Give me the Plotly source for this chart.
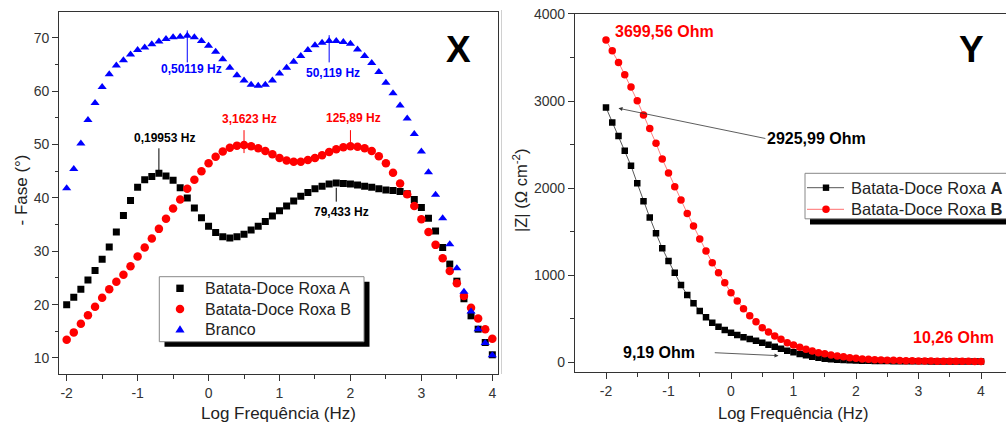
import plotly.graph_objects as go

W, H = 1006, 428
FONT = "Liberation Sans, Arial, sans-serif"

# log10 of frequency (Hz)
log_f = [-2.0, -1.9, -1.8, -1.7, -1.6, -1.5, -1.4, -1.3, -1.2, -1.1,
         -1.0, -0.9, -0.8, -0.7, -0.6, -0.5, -0.4, -0.3, -0.2, -0.1,
         0.0, 0.1, 0.2, 0.3, 0.4, 0.5, 0.6, 0.7, 0.8, 0.9,
         1.0, 1.1, 1.2, 1.3, 1.4, 1.5, 1.6, 1.7, 1.8, 1.9,
         2.0, 2.1, 2.2, 2.3, 2.4, 2.5, 2.6, 2.7, 2.8, 2.9,
         3.0, 3.1, 3.2, 3.3, 3.4, 3.5, 3.6, 3.7, 3.8, 3.9, 4.0]

# - phase angle (degrees)
fase_a = [20.0, 21.4, 22.9, 24.6, 26.4, 28.5, 30.8, 33.6, 36.7, 39.5,
          42.0, 43.4, 44.0, 44.6, 44.1, 43.3, 41.9, 40.0, 38.1, 36.3,
          34.7, 33.5, 32.7, 32.5, 32.7, 33.2, 34.0, 34.7, 35.6, 36.6,
          37.6, 38.5, 39.4, 40.3, 41.0, 41.7, 42.2, 42.6, 42.8, 42.7,
          42.6, 42.4, 42.2, 42.0, 41.7, 41.5, 41.4, 41.2, 40.8, 39.7,
          38.2, 36.2, 33.8, 30.7, 27.6, 24.4, 21.1, 17.9, 15.4, 12.9, 10.6]
fase_b = [13.4, 14.8, 16.4, 18.0, 19.6, 21.3, 22.9, 24.3, 25.6, 27.2,
          29.0, 30.7, 32.4, 34.2, 36.1, 38.0, 39.7, 41.7, 43.4, 45.0,
          46.5, 47.7, 48.7, 49.4, 49.8, 49.9, 49.7, 49.3, 48.8, 48.2,
          47.5, 47.0, 46.8, 46.8, 47.1, 47.5, 48.0, 48.6, 49.1, 49.5,
          49.7, 49.6, 49.3, 48.8, 47.8, 46.5, 44.7, 42.7, 40.7, 38.5,
          36.0, 33.6, 31.2, 28.7, 26.3, 24.0, 21.6, 19.4, 17.4, 15.4, 13.6]
fase_branco = [41.8, 45.4, 50.2, 54.6, 57.8, 60.8, 63.2, 64.8, 65.8, 66.9,
               67.7, 68.2, 68.8, 69.3, 69.8, 70.1, 70.2, 70.4, 70.1, 69.4,
               68.5, 67.4, 66.0, 64.4, 63.0, 62.0, 61.2, 61.0, 61.2, 62.0,
               63.3, 64.4, 65.5, 66.6, 67.7, 68.6, 69.1, 69.4, 69.4, 69.2,
               68.9, 67.8, 66.6, 65.3, 63.6, 61.6, 59.6, 57.3, 54.9, 52.0,
               48.7, 44.8, 40.6, 36.2, 31.3, 26.8, 22.4, 18.7, 15.4, 12.8, 10.5]

# |Z| (Ohm cm^-2)
z_a = [2925.99, 2755, 2598, 2429, 2257, 2055, 1850, 1662, 1481, 1309,
       1163, 1029, 887, 773, 677, 589, 517, 455, 409, 371,
       340, 313, 287, 268, 248, 225, 202, 179, 156, 133,
       115, 95, 80, 64, 53, 41, 35, 30, 26, 23,
       20.5, 18.5, 17, 15.8, 14.7, 13.8, 13, 12.3, 11.8, 11.3,
       10.9, 10.6, 10.3, 10.1, 9.9, 9.75, 9.6, 9.5, 9.4, 9.3, 9.19]
z_b = [3699.56, 3578, 3444, 3302, 3161, 3003, 2839, 2686, 2514, 2334,
       2173, 2016, 1863, 1710, 1565, 1416, 1278, 1144, 1029, 914,
       799, 704, 615, 535, 466, 397, 348, 302, 264, 225,
       199, 172, 149, 130, 110, 99, 84, 72, 64, 53,
       45, 39, 34, 30, 27, 24, 22, 20, 18, 16.5,
       15.3, 14.3, 13.5, 12.8, 12.2, 11.7, 11.3, 11.0, 10.7, 10.45, 10.26]

series_names = ["Batata-Doce Roxa A", "Batata-Doce Roxa B", "Branco"]

# peak labels: (index of peak point, label, colour, label x, label y, tick top, tick bottom)
peaks = [
    (17, "0,50119 Hz", "#0000ff", -0.24, 64.1, 71.4, 65.4),
    (37, "50,119 Hz", "#0000ff", 1.75, 63.5, 70.5, 65.4),
    (25, "3,1623 Hz", "#ff0000", 0.58, 54.7, 52.7, 48.4),
    (40, "125,89 Hz", "#ff0000", 2.04, 54.9, 52.7, 49.5),
    (13, "0,19953 Hz", "#000000", -0.62, 51.2, 49.3, 44.3),
    (38, "79,433 Hz", "#000000", 1.88, 37.4, 41.9, 39.3),
]


def px(x):
    return x / W


def py(y):
    return 1 - y / H


fig = go.Figure()

# ---- Bode phase plot (left) ----
fig.add_trace(go.Scatter(x=log_f, y=fase_a, mode="markers", name=series_names[0],
                         marker=dict(symbol="square", size=7, color="#000000"),
                         xaxis="x", yaxis="y", showlegend=False))
fig.add_trace(go.Scatter(x=log_f, y=fase_b, mode="markers", name=series_names[1],
                         marker=dict(symbol="circle", size=8.5, color="#ff0000"),
                         xaxis="x", yaxis="y", showlegend=False))
fig.add_trace(go.Scatter(x=log_f, y=fase_branco, mode="markers", name=series_names[2],
                         marker=dict(symbol="triangle-up", size=8, color="#0000ff"),
                         xaxis="x", yaxis="y", showlegend=False))

# ---- Bode modulus plot (right) ----
fig.add_trace(go.Scatter(x=log_f, y=z_a, mode="lines+markers", name=series_names[0],
                         line=dict(color="#444444", width=0.9),
                         marker=dict(symbol="square", size=6.5, color="#000000"),
                         xaxis="x2", yaxis="y2", showlegend=False))
fig.add_trace(go.Scatter(x=log_f, y=z_b, mode="lines+markers", name=series_names[1],
                         line=dict(color="#ff7070", width=0.9),
                         marker=dict(symbol="circle", size=7.5, color="#ff0000"),
                         xaxis="x2", yaxis="y2", showlegend=False))

axis_common = dict(showgrid=False, zeroline=False, showline=True, linecolor="#333333",
                   linewidth=1.3, ticks="outside", ticklen=6, tickwidth=1.1,
                   tickcolor="#333333", tickfont=dict(family=FONT, size=14, color="#333333"))

fig.update_layout(
    width=W, height=H,
    margin=dict(l=0, r=0, t=0, b=0, autoexpand=False),
    paper_bgcolor="white", plot_bgcolor="white",
    font=dict(family=FONT),
    xaxis=dict(axis_common, domain=[px(59.3), px(498)], range=[-2.104, 4.08],
               tickvals=[-2, -1, 0, 1, 2, 3, 4], ticktext=["-2", "-1", "0", "1", "2", "3", "4"],
               mirror=True, anchor="y",
               minor=dict(dtick=0.5, tick0=-2, ticks="outside", ticklen=3.5, tickcolor="#333333")),
    yaxis=dict(axis_common, domain=[py(374), py(11.7)], range=[7.0, 74.9],
               tickvals=[10, 20, 30, 40, 50, 60, 70], mirror=True, anchor="x",
               minor=dict(dtick=5, tick0=0, ticks="outside", ticklen=3.5, tickcolor="#333333")),
    xaxis2=dict(axis_common, domain=[px(575), 1.0], range=[-2.496, 4.4],
                tickvals=[-2, -1, 0, 1, 2, 3, 4], ticktext=["-2", "-1", "0", "1", "2", "3", "4"],
                mirror=True, anchor="y2",
                minor=dict(dtick=0.5, tick0=-2, ticks="outside", ticklen=3.5, tickcolor="#333333")),
    yaxis2=dict(axis_common, domain=[py(372.3), py(13.7)], range=[-115, 4003],
                tickvals=[0, 1000, 2000, 3000, 4000], anchor="x2",
                minor=dict(dtick=500, tick0=0, ticks="outside", ticklen=3.5, tickcolor="#333333")),
)

shapes = []
annotations = []

# thin separator at the edge of the right panel
shapes.append(dict(type="line", xref="paper", yref="paper", x0=px(501.5), x1=px(501.5),
                   y0=py(10), y1=py(374), line=dict(color="#d0d0d0", width=1)))

# peak markers and labels on the phase plot
for idx, label, color, tx, ty, y0, y1 in peaks:
    shapes.append(dict(type="line", xref="x", yref="y", x0=log_f[idx], x1=log_f[idx],
                       y0=y0, y1=y1, line=dict(color=color, width=1)))
    annotations.append(dict(xref="x", yref="y", x=tx, y=ty, text="<b>%s</b>" % label,
                            showarrow=False, xanchor="center", yanchor="middle",
                            font=dict(family=FONT, size=12, color=color)))

# panel letters
annotations.append(dict(xref="paper", yref="paper", x=px(458.7), y=py(49), text="<b>X</b>",
                        showarrow=False, xanchor="center", yanchor="middle",
                        font=dict(family=FONT, size=37, color="#000000")))
annotations.append(dict(xref="paper", yref="paper", x=px(971.7), y=py(49), text="<b>Y</b>",
                        showarrow=False, xanchor="center", yanchor="middle",
                        font=dict(family=FONT, size=37, color="#000000")))

# axis titles
title_font = dict(family=FONT, size=17, color="#222222")
annotations += [
    dict(xref="paper", yref="paper", x=px(278.5), y=py(413), text="Log Frequência (Hz)",
         showarrow=False, xanchor="center", yanchor="middle", font=title_font),
    dict(xref="paper", yref="paper", x=px(20.5), y=py(190), text="- Fase (°)", textangle=-90,
         showarrow=False, xanchor="center", yanchor="middle", font=title_font),
    dict(xref="paper", yref="paper", x=px(793), y=py(413), text="Log Frequência (Hz)",
         showarrow=False, xanchor="center", yanchor="middle", font=dict(title_font, size=16.5)),
    dict(xref="paper", yref="paper", x=px(520), y=py(191), text="|Z| (Ω cm<sup>-2</sup>)",
         textangle=-90, showarrow=False, xanchor="center", yanchor="middle",
         font=dict(title_font, size=16.5)),
]

# modulus labels (the two black ones carry their arrows)
ohm_font = dict(family=FONT, size=16, color="#000000")
annotations += [
    dict(xref="paper", yref="paper", x=px(664.7), y=py(31.7), text="<b>3699,56 Ohm</b>",
         showarrow=False, xanchor="center", yanchor="middle", font=dict(ohm_font, color="#ff0000")),
    dict(xref="paper", yref="paper", x=px(953), y=py(337.7), text="<b>10,26 Ohm</b>",
         showarrow=False, xanchor="center", yanchor="middle", font=dict(ohm_font, color="#ff0000")),
    dict(xref="x2", yref="y2", x=-1.80, y=2917, axref="x2", ayref="y2", ax=0.55, ay=2570,
         text="<b>2925,99 Ohm</b>", xanchor="left", yanchor="middle", font=ohm_font,
         showarrow=True, arrowhead=2, arrowsize=1, arrowwidth=0.8,
         arrowcolor="#333333", standoff=0),
    dict(xref="x2", yref="y2", x=0.76, y=76, axref="x2", ayref="y2", ax=-0.26, ay=110,
         text="<b>9,19 Ohm</b>&nbsp;&nbsp;&nbsp;&nbsp;", xanchor="right", yanchor="middle",
         font=ohm_font, showarrow=True, arrowhead=2, arrowsize=1, arrowwidth=0.8,
         arrowcolor="#333333", standoff=0),
]


def rect(x0, y0, x1, y1, fill, line_color=None, lw=0):
    return dict(type="rect", xref="paper", yref="paper", x0=px(x0), x1=px(x1),
                y0=py(y1), y1=py(y0), fillcolor=fill,
                line=dict(color=line_color or fill, width=lw))


def circle(cx, cy, d, fill):
    return dict(type="circle", xref="paper", yref="paper", x0=px(cx - d / 2), x1=px(cx + d / 2),
                y0=py(cy + d / 2), y1=py(cy - d / 2), fillcolor=fill, line=dict(width=0))


legend_font = dict(family=FONT, size=16, color="#222222")

# legend of the phase plot
shapes.append(rect(164.5, 281.7, 369.5, 346.7, "#000000"))
shapes.append(rect(159.3, 276.7, 364, 341.7, "#ffffff", "#888888", 1))
shapes.append(rect(176.3, 284.6, 183.7, 292, "#000000"))
shapes.append(circle(180, 309, 8.5, "#ff0000"))
shapes.append(dict(type="path", xref="paper", yref="paper",
                   path="M %f,%f L %f,%f L %f,%f Z" % (px(175.4), py(332.6), px(184.6), py(332.6),
                                                      px(180), py(325.2)),
                   fillcolor="#0000ff", line=dict(width=0)))
for name, yy in zip(series_names, [288.3, 309, 329.3]):
    annotations.append(dict(xref="paper", yref="paper", x=px(203), y=py(yy), text=name,
                            showarrow=False, xanchor="left", yanchor="middle", font=legend_font))

# legend of the modulus plot
shapes.append(rect(810, 178.3, 1012, 224.5, "#000000"))
shapes.append(rect(805, 173.3, 1010, 218.8, "#ffffff", "#888888", 1))
shapes.append(dict(type="line", xref="paper", yref="paper", x0=px(807), x1=px(844),
                   y0=py(187.7), y1=py(187.7), line=dict(color="#555555", width=1)))
shapes.append(rect(822.8, 184.5, 829.2, 190.9, "#000000"))
shapes.append(dict(type="line", xref="paper", yref="paper", x0=px(807), x1=px(844),
                   y0=py(209.3), y1=py(209.3), line=dict(color="#ff7070", width=1)))
shapes.append(circle(826, 209.3, 7.5, "#ff0000"))
for name, yy in zip(["Batata-Doce Roxa <b>A</b>", "Batata-Doce Roxa <b>B</b>"], [187.7, 209.3]):
    annotations.append(dict(xref="paper", yref="paper", x=px(849), y=py(yy), text=name,
                            showarrow=False, xanchor="left", yanchor="middle",
                            font=dict(legend_font, size=16.5)))

fig.update_layout(shapes=shapes, annotations=annotations)

fig.write_html("out.html")
